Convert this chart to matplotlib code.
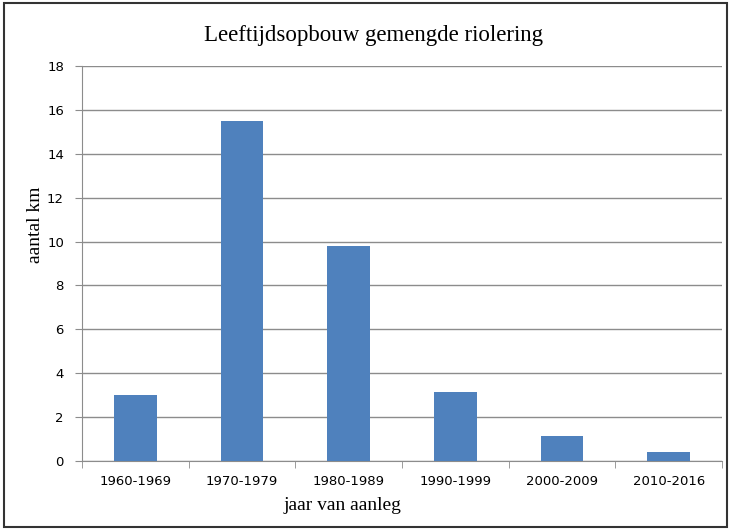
import matplotlib.pyplot as plt
from matplotlib.patches import Rectangle
from matplotlib.ticker import MultipleLocator, FixedLocator, NullFormatter

# data
periods = ["1960-1969", "1970-1979", "1980-1989", "1990-1999", "2000-2009", "2010-2016"]
km = [3.0, 15.5, 9.8, 3.15, 1.15, 0.4]

fig = plt.figure(figsize=(7.31, 5.30), dpi=100)
ax = fig.add_axes([0.1122, 0.1302, 0.8755, 0.7453])

x = list(range(len(periods)))
ax.bar(x, km, width=0.4, color="#4f81bd", zorder=3)

ax.set_xlim(-0.5, len(periods) - 0.5)
ax.set_ylim(0, 18)
ax.yaxis.set_major_locator(MultipleLocator(2))
ax.grid(axis="y", color="#8c8c8c", linewidth=1, zorder=0)

ax.set_xticks(x)
ax.set_xticklabels(periods, fontsize=9.5, family="DejaVu Sans")
ax.xaxis.set_minor_locator(FixedLocator([i - 0.5 for i in range(len(periods) + 1)]))
ax.xaxis.set_minor_formatter(NullFormatter())
ax.tick_params(axis="x", which="major", length=0, pad=10)
ax.tick_params(axis="x", which="minor", length=5, color="#8c8c8c")
ax.tick_params(axis="y", length=5, color="#8c8c8c", labelsize=9.5, pad=8)

for s in ["top", "right"]:
    ax.spines[s].set_visible(False)
ax.spines["left"].set_color("#8c8c8c")
ax.spines["bottom"].set_color("#8c8c8c")

fig.text(373 / 731, 1 - 35 / 530, "Leeftijdsopbouw gemengde riolering",
         ha="center", va="center", fontsize=16.5, family="Liberation Serif")
fig.text(35 / 731, 1 - 225 / 530, "aantal km", rotation=90,
         ha="center", va="center", fontsize=14, family="Liberation Serif")
fig.text(342 / 731, 1 - 506 / 530, "jaar van aanleg",
         ha="center", va="center", fontsize=14, family="Liberation Serif")

# outer frame
fig.patches.append(Rectangle((0.006, 0.006), 0.989, 0.988, transform=fig.transFigure,
                             fill=False, edgecolor="#333333", linewidth=1.5))

fig.savefig("out.png", dpi=100)
